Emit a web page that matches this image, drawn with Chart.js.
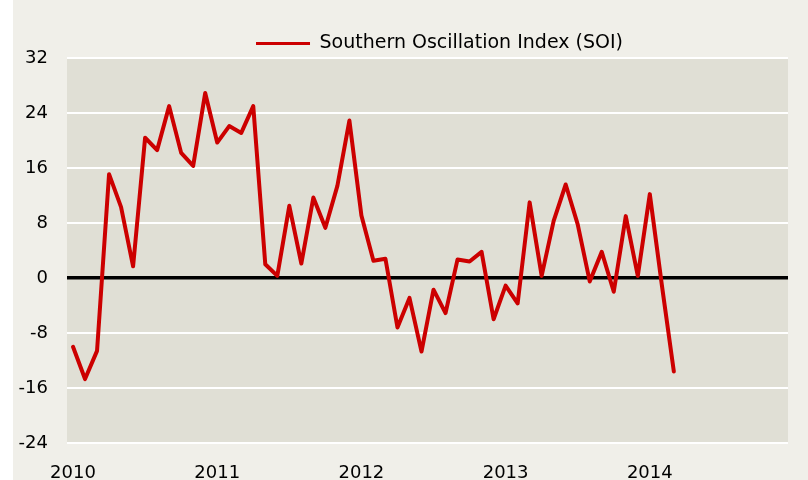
<!DOCTYPE html>
<html>
<head>
<meta charset="utf-8">
<script src="https://cdn.jsdelivr.net/npm/chart.js@4"></script>
<style>
  html, body { margin: 0; padding: 0; background: #ffffff; }
  #wrap { position: absolute; left: 13px; top: 0; width: 795px; height: 480px; background: #f0efe9; }
</style>
</head>
<body>
<div id="wrap"><canvas id="chart" width="795" height="480"></canvas></div>
<script>
// monthly categories, Jan 2010 - Dec 2014
const years = [2010, 2011, 2012, 2013, 2014];
const months = ['01', '02', '03', '04', '05', '06', '07', '08', '09', '10', '11', '12'];
const labels = [];
years.forEach(y => months.forEach(m => labels.push(y + '-' + m)));

// SOI values, Jan 2010 - Mar 2014
const soi = [
  -10.0, -14.7, -10.6, 15.1, 10.3, 1.7, 20.4, 18.6, 25.0, 18.2, 16.3, 26.9,
  19.7, 22.1, 21.1, 25.0, 2.0, 0.3, 10.5, 2.1, 11.7, 7.3, 13.4, 22.9,
  9.1, 2.5, 2.8, -7.2, -2.9, -10.7, -1.7, -5.1, 2.7, 2.4, 3.8, -6.0,
  -1.1, -3.7, 11.0, 0.3, 8.3, 13.6, 7.8, -0.5, 3.8, -2.0, 9.0, 0.3,
  12.2, -1.0, -13.6
];

const yMin = -24, yMax = 32, yStep = 8;

const plotBg = {
  id: 'plotBg',
  afterLayout(chart) {
    // legend sits a bit right of centre and close to the plot in the original
    const lg = chart.legend;
    lg.left += 39;
    lg.right += 39;
    lg.top += 5;
    lg.bottom += 5;
  },
  beforeDraw(chart) {
    const { ctx, chartArea: a } = chart;
    ctx.save();
    ctx.fillStyle = '#e0dfd5';
    ctx.fillRect(a.left, a.top, a.right - a.left, a.bottom - a.top);
    ctx.restore();
  }
};

Chart.defaults.font.family = '"DejaVu Sans", Arial, sans-serif';
Chart.defaults.color = '#000000';

new Chart(document.getElementById('chart'), {
  type: 'line',
  data: {
    labels: labels,
    datasets: [{
      label: 'Southern Oscillation Index (SOI)',
      data: soi,
      borderColor: '#cc0000',
      backgroundColor: '#cc0000',
      borderWidth: 4,
      pointRadius: 0,
      tension: 0,
      borderJoinStyle: 'round',
      borderCapStyle: 'round'
    }]
  },
  options: {
    responsive: false,
    animation: false,
    layout: { padding: { top: 25, right: 20, left: 0, bottom: 0 } },
    plugins: {
      legend: {
        position: 'top',
        labels: {
          boxWidth: 54,
          boxHeight: 3,
          padding: 4,
          font: { size: 19 },
          generateLabels: chart => Chart.defaults.plugins.legend.labels.generateLabels(chart)
            .map(l => Object.assign(l, { lineWidth: 0 }))
        }
      },
      tooltip: { enabled: false }
    },
    scales: {
      x: {
        offset: true,
        grid: { display: false, drawTicks: false },
        border: { display: false },
        ticks: {
          autoSkip: false,
          maxRotation: 0,
          padding: 20,
          font: { size: 18 },
          callback: (v, i) => (i % 12 === 0 ? labels[i].slice(0, 4) : '')
        },
        afterFit: s => { s.height = 37; }
      },
      y: {
        min: yMin,
        max: yMax,
        grid: {
          drawTicks: false,
          color: c => (c.tick && c.tick.value === 0 ? '#000000' : '#ffffff'),
          lineWidth: c => (c.tick && c.tick.value === 0 ? 3.5 : 2)
        },
        border: { display: false },
        ticks: {
          stepSize: yStep,
          padding: 19,
          font: { size: 18 }
        },
        afterFit: s => { s.width = 54; }
      }
    }
  },
  plugins: [plotBg]
});
</script>
</body>
</html>
